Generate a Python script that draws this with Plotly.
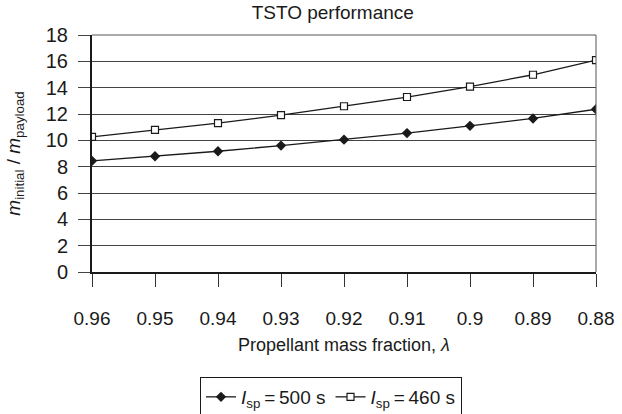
import plotly.graph_objects as go

categories = ["0.96", "0.95", "0.94", "0.93", "0.92", "0.91", "0.9", "0.89", "0.88"]
isp500 = [8.44, 8.79, 9.17, 9.60, 10.05, 10.55, 11.10, 11.66, 12.36]
isp460 = [10.27, 10.80, 11.31, 11.91, 12.59, 13.29, 14.08, 14.98, 16.09]
y_ticks = [0, 2, 4, 6, 8, 10, 12, 14, 16, 18]

FONT = "Liberation Sans, Arial, sans-serif"

fig = go.Figure()
fig.add_trace(go.Scatter(
    x=categories, y=isp500, mode="lines+markers",
    name="<i>I</i><sub>sp</sub>\u2009=\u2009500 s",
    line=dict(color="#1a1a1a", width=1.3),
    marker=dict(symbol="diamond", size=8, color="#1a1a1a"),
))
fig.add_trace(go.Scatter(
    x=categories, y=isp460, mode="lines+markers",
    name="<i>I</i><sub>sp</sub>\u2009=\u2009460 s",
    line=dict(color="#1a1a1a", width=1.3),
    marker=dict(symbol="square", size=7, color="white",
                line=dict(color="#1a1a1a", width=1.2)),
))

# top and right border of the plot area
fig.add_shape(type="line", xref="paper", yref="paper", x0=0, x1=1, y0=1, y1=1,
              line=dict(color="#555555", width=1))
fig.add_shape(type="line", xref="paper", yref="paper", x0=1, x1=1, y0=0, y1=1,
              line=dict(color="#555555", width=1))

fig.update_layout(
    width=622, height=414,
    margin=dict(l=92, r=26, t=35, b=142, autoexpand=False),
    paper_bgcolor="white", plot_bgcolor="white",
    font=dict(family=FONT, color="#1a1a1a", size=17),
    title=dict(text="TSTO performance", x=0.535, xref="container", xanchor="center",
               y=0.97, yref="container", yanchor="middle",
               font=dict(size=19, family=FONT, color="#1a1a1a")),
    showlegend=True,
    legend=dict(orientation="h", x=200 / 622, xref="container", xanchor="left",
                y=1 - 377 / 414, yref="container", yanchor="top",
                bordercolor="#1a1a1a", borderwidth=1, bgcolor="white",
                font=dict(size=19, family=FONT), itemwidth=30,
                tracegroupgap=0),
    xaxis=dict(type="category", categoryorder="array", categoryarray=categories,
               range=[0, 8], showgrid=False, zeroline=False, automargin=False,
               showline=True, linecolor="#1a1a1a", linewidth=2,
               ticks="outside", ticklen=13, tickcolor="#333333", tickwidth=1,
               ticklabelstandoff=15,
               tickfont=dict(size=19, family=FONT),
               title=dict(text="Propellant mass fraction, <i>λ</i>", standoff=11,
                          font=dict(size=18, family=FONT))),
    yaxis=dict(range=[0, 18], tickvals=y_ticks, showgrid=True, gridcolor="#444444",
               gridwidth=1, zeroline=False, automargin=False,
               showline=True, linecolor="#1a1a1a", linewidth=2,
               ticks="outside", ticklen=12, tickcolor="#444444", tickwidth=1,
               ticklabelstandoff=6,
               tickfont=dict(size=20, family=FONT),
               title=dict(text="<i>m</i><sub>initial</sub> / <i>m</i><sub>payload</sub>",
                          standoff=20, font=dict(size=19, family=FONT))),
)

fig.write_html(
    "out.html",
    config={"displayModeBar": False},
    post_script="document.body.style.margin='0';document.body.style.overflow='hidden';",
)
